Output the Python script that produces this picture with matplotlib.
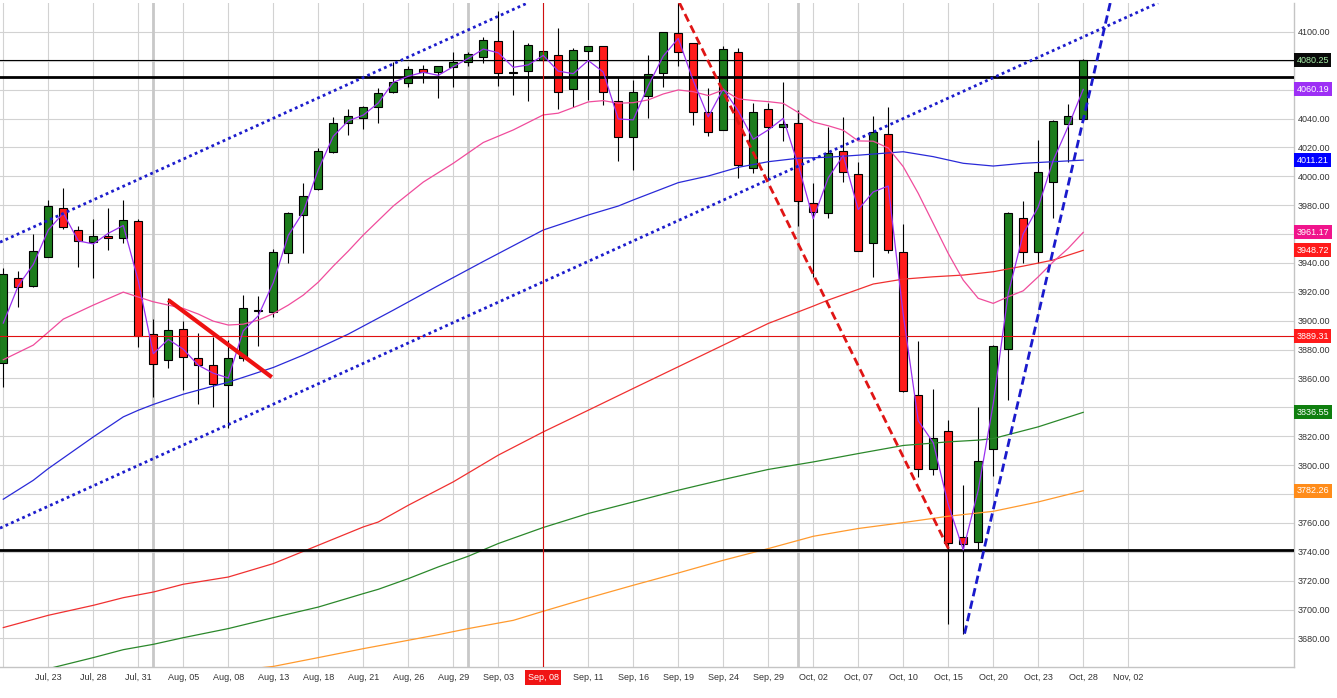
import matplotlib
matplotlib.use('Agg')
import matplotlib.pyplot as plt
import matplotlib.transforms as mtransforms
from matplotlib.patches import Rectangle
import numpy as np

# ---------------- data ----------------
opens = [3870.6, 3929.3, 3924.2, 3944.3, 3977.8, 3962.8, 3954.3, 3958.4, 3957.0, 3969.0,
         3890.5, 3872.5, 3894.4, 3874.3, 3869.0, 3855.4, 3873.9, 3906.5, 3905.8, 3946.6,
         3973.0, 3991.0, 4017.0, 4036.7, 4040.2, 4047.8, 4058.2, 4064.4, 4074.2, 4072.1,
         4076.0, 4079.0, 4082.9, 4093.6, 4072.3, 4073.0, 4080.6, 4084.1, 4060.3, 4087.0,
         4090.3, 4052.2, 4027.0, 4055.9, 4071.4, 4099.1, 4092.2, 4044.8, 4032.1, 4085.9,
         4005.5, 4046.4, 4034.0, 4036.7, 3981.3, 3974.4, 4017.7, 4001.4, 3953.6, 4029.3,
         3947.7, 3848.4, 3797.6, 3823.5, 3750.2, 3746.8, 3811.5, 3880.1, 3970.9, 3947.3,
         3995.8, 4036.0, 4040.01]
highs = [3936.5, 3934.6, 3960.0, 3983.6, 3991.7, 3965.6, 3970.4, 3977.8, 3983.6, 3970.4,
         3901.1, 3915.5, 3900.0, 3891.2, 3888.8, 3886.6, 3917.7, 3917.3, 3949.6, 3975.5,
         3995.1, 4019.4, 4041.3, 4046.6, 4048.7, 4061.0, 4079.4, 4076.4, 4077.1, 4076.6,
         4086.3, 4086.1, 4096.7, 4114.6, 4101.4, 4092.2, 4087.5, 4102.6, 4088.7, 4090.5,
         4090.5, 4068.6, 4066.7, 4084.1, 4100.0, 4120.3, 4092.5, 4061.0, 4090.3, 4088.7,
         4050.6, 4050.6, 4065.6, 4045.9, 3995.1, 4034.4, 4040.9, 4010.1, 4041.8, 4047.8,
         3966.9, 3885.9, 3852.6, 3831.1, 3786.1, 3839.9, 3883.1, 3975.5, 3982.9, 4025.2,
         4039.0, 4050.1, 4081.5]
lows = [3854.0, 3909.6, 3923.5, 3944.0, 3963.3, 3937.4, 3929.3, 3948.9, 3953.6, 3881.5,
        3847.3, 3867.0, 3851.9, 3842.2, 3840.3, 3825.4, 3872.0, 3882.6, 3902.7, 3939.7,
        3947.1, 3990.5, 4015.9, 4028.6, 4032.8, 4036.7, 4057.5, 4062.1, 4064.4, 4054.5,
        4062.1, 4076.6, 4078.3, 4062.6, 4056.3, 4052.4, 4079.9, 4046.4, 4047.8, 4052.9,
        4049.4, 4010.6, 4004.4, 4040.2, 4061.7, 4076.6, 4035.6, 4028.1, 4031.8, 3998.6,
        4002.1, 3997.4, 4024.7, 3965.6, 3930.4, 3970.9, 3996.3, 3948.0, 3930.4, 3947.1,
        3850.7, 3791.8, 3793.0, 3690.2, 3683.3, 3741.0, 3792.5, 3845.0, 3939.7, 3939.7,
        3970.9, 4010.1, 4039.0]
closes = [3932.3, 3923.5, 3948.2, 3979.4, 3965.1, 3955.4, 3958.6, 3957.0, 3969.5, 3889.5,
          3869.7, 3893.3, 3874.6, 3869.0, 3856.5, 3873.9, 3908.5, 3907.2, 3947.3, 3974.4,
          3986.3, 4017.5, 4036.7, 4041.8, 4047.8, 4057.5, 4065.1, 4074.2, 4072.5, 4076.4,
          4079.2, 4084.8, 4094.5, 4071.4, 4071.8, 4091.0, 4086.8, 4058.2, 4087.5, 4090.3,
          4058.6, 4027.4, 4058.2, 4070.7, 4099.8, 4085.9, 4044.8, 4030.5, 4088.0, 4007.8,
          4044.4, 4034.0, 4036.2, 3983.1, 3975.5, 4015.9, 4002.8, 3948.4, 4030.9, 3948.9,
          3851.4, 3797.0, 3819.1, 3746.4, 3745.7, 3802.7, 3882.4, 3974.4, 3947.3, 4002.8,
          4038.3, 4041.8, 4080.25]

tick_idx = list(range(3, 76, 3))
tick_labels = ["Jul, 23", "Jul, 28", "Jul, 31", "Aug, 05", "Aug, 08", "Aug, 13", "Aug, 18",
               "Aug, 21", "Aug, 26", "Aug, 29", "Sep, 03", "Sep, 08", "Sep, 11", "Sep, 16",
               "Sep, 19", "Sep, 24", "Sep, 29", "Oct, 02", "Oct, 07", "Oct, 10", "Oct, 15",
               "Oct, 20", "Oct, 23", "Oct, 28", "Nov, 02"]
highlight_label = "Sep, 08"
month_start_idx = [10, 31, 53]

pink_idx = [0, 2, 4, 6, 8, 9, 10, 11, 12, 13, 14, 15, 16, 17, 18, 19, 20, 21, 22, 23, 24, 26, 28,
            30, 32, 34, 36, 37, 39, 40, 41, 42, 43, 44, 45, 46, 47, 48, 49, 50, 51, 52, 53, 54,
            55, 56, 57, 58, 59, 60, 61, 62, 63, 64, 65, 66, 67, 68, 69, 70, 71, 72]
pink_val = [3873.0, 3883.1, 3901.1, 3910.8, 3919.8, 3916.4, 3913.1, 3910.8, 3908.5, 3904.6,
            3899.7, 3897.0, 3897.6, 3900.4, 3904.9, 3910.8, 3917.7, 3926.7, 3937.8, 3948.2,
            3959.3, 3979.4, 3996.0, 4009.0, 4023.4, 4032.1, 4042.5, 4043.7, 4051.5, 4052.4,
            4050.6, 4051.0, 4052.9, 4057.0, 4059.8, 4058.6, 4055.9, 4059.8, 4053.6, 4052.5,
            4051.7, 4050.5, 4044.2, 4037.6, 4035.0, 4031.9, 4024.5, 4024.3, 4019.6, 4006.7,
            3988.2, 3967.4, 3946.6, 3928.1, 3915.5, 3912.0, 3916.6, 3920.7, 3930.4, 3940.8,
            3950.1, 3961.17]

blue_idx = [0, 2, 3, 6, 8, 9, 10, 12, 14, 15, 18, 20, 23, 26, 29, 32, 36, 39, 41, 42, 45, 47,
            49, 51, 53, 55, 57, 60, 62, 64, 66, 68, 70, 72]
blue_val = [3776.4, 3789.5, 3797.6, 3819.5, 3833.4, 3838.0, 3842.0, 3849.1, 3854.7, 3857.4,
            3867.6, 3876.2, 3890.7, 3907.3, 3924.3, 3941.0, 3962.8, 3973.2, 3979.4, 3983.6,
            3995.6, 4000.2, 4006.2, 4010.1, 4012.5, 4013.2, 4014.6, 4017.0, 4013.6, 4009.0,
            4007.1, 4009.0, 4010.1, 4011.21]

red_idx = [0, 3, 6, 8, 10, 12, 15, 18, 21, 24, 25, 27, 30, 33, 36, 39, 42, 45, 48, 51, 54, 55,
           58, 60, 62, 64, 66, 68, 70, 72]
red_val = [3687.5, 3696.0, 3702.9, 3708.2, 3712.1, 3717.5, 3722.5, 3731.8, 3744.5, 3757.2,
           3760.6, 3772.2, 3788.4, 3806.9, 3823.0, 3838.0, 3853.1, 3868.1, 3883.1, 3898.1,
           3910.1, 3914.3, 3925.4, 3928.8, 3930.4, 3931.6, 3933.9, 3937.8, 3942.0, 3948.72]

green_idx = [3, 6, 8, 10, 12, 15, 18, 21, 24, 25, 27, 29, 31, 33, 36, 39, 42, 45, 48, 51, 54,
             57, 60, 63, 65, 66, 69, 72]
green_val = [3659.0, 3666.7, 3672.2, 3675.9, 3680.5, 3686.8, 3694.4, 3701.7, 3711.0, 3714.0,
             3721.4, 3729.5, 3736.9, 3745.7, 3756.8, 3766.5, 3774.5, 3782.6, 3790.0, 3797.0,
             3802.2, 3808.0, 3813.6, 3816.1, 3817.3, 3818.4, 3826.5, 3836.55]

orange_idx = [17, 18, 21, 24, 27, 29, 31, 34, 36, 39, 42, 45, 48, 51, 54, 57, 60, 63, 66, 69, 72]
orange_val = [3659.5, 3660.6, 3666.7, 3672.9, 3678.7, 3682.6, 3686.8, 3692.5, 3698.8, 3708.0,
              3716.8, 3725.3, 3734.1, 3742.2, 3750.7, 3756.1, 3760.2, 3764.6, 3768.0, 3774.5,
              3782.26]

# trend lines (index, price)
channel_upper = [(0, 3955.4), (10, 4002.5)]
channel_lower = [(0, 3757.4), (10, 3804.5)]
red_trend = [(11.0, 3914.3), (17.9, 3860.9)]
red_dashed = [(45.07, 4120.3), (63.07, 3741.0)]
blue_dashed = [(64.09, 3683.3), (73.8, 4120.0)]

last_price = 4080.25
resist_level = 4068.6
support_level = 3741.0
red_level = 3889.31
vline_idx = 36

# ---------------- figure ----------------
FONT = 'Liberation Sans'
fig = plt.figure(figsize=(13.37, 6.98), dpi=100)
ax = fig.add_axes([0.0, 0.044, 0.9678, 0.9517])
ax.set_facecolor('white')
ax.set_xlim(-0.22, 86.05)
ax.set_ylim(3660, 4120)

# grid
for y in range(3680, 4101, 20):
    ax.axhline(y, color='#d2d2d2', lw=0.8, zorder=0)
for k in range(0, 76, 3):
    ax.axvline(k, color='#d2d2d2', lw=0.8, zorder=0)
for k in month_start_idx:
    ax.axvline(k, color='#c8c8c8', lw=2.0, zorder=0)

# candles
w = 0.56
for k in range(len(opens)):
    o, h, l, c = opens[k], highs[k], lows[k], closes[k]
    ax.plot([k, k], [l, h], color='black', lw=0.8, zorder=3, solid_capstyle='butt')
    col = '#1c7c1c' if c >= o else '#ff1c1c'
    bottom = min(o, c)
    height = max(abs(c - o), 0.4)
    ax.add_patch(Rectangle((k - w / 2, bottom), w, height, facecolor=col,
                           edgecolor='black', lw=0.8, zorder=3.5))

# moving averages
ohlc4 = (np.array(opens) + np.array(highs) + np.array(lows) + np.array(closes)) / 4.0
idx_all = np.arange(len(opens))
ax.plot(orange_idx, orange_val, color='#ff9a2e', lw=0.9, zorder=4)
ax.plot(green_idx, green_val, color='#2b882b', lw=0.9, zorder=4)
ax.plot(red_idx, red_val, color='#f03030', lw=0.9, zorder=4)
ax.plot(blue_idx, blue_val, color='#2a2ad8', lw=0.9, zorder=4)
ax.plot(pink_idx, pink_val, color='#f04c9c', lw=0.9, zorder=4)
ax.plot(idx_all, ohlc4, color='#9a30f0', lw=0.9, zorder=4.2)

# horizontal levels
ax.axhline(last_price, color='black', lw=0.8, zorder=4)
ax.axhline(resist_level, color='black', lw=2.0, zorder=4)
ax.axhline(support_level, color='black', lw=2.0, zorder=4)
ax.axhline(red_level, color='#e01010', lw=0.8, zorder=4)
ax.axvline(vline_idx, color='#d01010', lw=0.8, zorder=4)

# trend lines
ax.axline(channel_upper[0], channel_upper[1], color='#1c1ccc', lw=2.0,
          linestyle=(0, (1.0, 1.2)), zorder=5)
ax.axline(channel_lower[0], channel_lower[1], color='#1c1ccc', lw=2.0,
          linestyle=(0, (1.0, 1.2)), zorder=5)
ax.plot([p[0] for p in red_trend], [p[1] for p in red_trend], color='#ee1111', lw=3.0,
        zorder=5, solid_capstyle='butt')
ax.plot([p[0] for p in red_dashed], [p[1] for p in red_dashed], color='#e01515', lw=2.0,
        linestyle=(0, (3.0, 1.6)), zorder=5)
ax.plot([p[0] for p in blue_dashed], [p[1] for p in blue_dashed], color='#1a1acc', lw=2.0,
        linestyle=(0, (3.0, 1.6)), zorder=5)

# axes styling
for s in ['left', 'top']:
    ax.spines[s].set_visible(False)
for s in ['right', 'bottom']:
    ax.spines[s].set_color('#c4c4c4')
    ax.spines[s].set_linewidth(1.0)

ax.yaxis.tick_right()
ax.set_yticks(list(range(3680, 4101, 20)))
ax.set_yticklabels(['%.2f' % v for v in range(3680, 4101, 20)])
ax.set_xticks(tick_idx)
ax.set_xticklabels(tick_labels)
ax.tick_params(axis='both', length=0, labelsize=6.5, labelcolor='#333333')
ax.tick_params(axis='x', pad=4)
ax.tick_params(axis='y', pad=3)
for lbl in ax.get_xticklabels() + ax.get_yticklabels():
    lbl.set_fontfamily(FONT)
for lbl in ax.get_xticklabels():
    if lbl.get_text() == highlight_label:
        lbl.set_color('white')
        lbl.set_bbox(dict(boxstyle='square,pad=0.3', fc='#f01414', ec='none'))

# price tags on the right axis
trans = mtransforms.blended_transform_factory(ax.transAxes, ax.transData)
tags = [
    (last_price, '#0a0a0a', '#a8f0a8'),
    (ohlc4[-1], '#9d2ff5', 'white'),
    (blue_val[-1], '#0000ff', 'white'),
    (pink_val[-1], '#f0148c', 'white'),
    (red_val[-1], '#ff1a1a', 'white'),
    (red_level, '#ff1a1a', 'white'),
    (green_val[-1], '#0f7f0f', 'white'),
    (orange_val[-1], '#ff8c1a', 'white'),
]
for val, bg, fg in tags:
    ax.text(1.0 + 2.5 / 1294, val, '%.2f' % val, transform=trans, ha='left', va='center',
            fontsize=6.5, family=FONT, color=fg, zorder=20, clip_on=False,
            bbox=dict(boxstyle='square,pad=0.28', fc=bg, ec='none'))

fig.savefig('out.png', dpi=100, facecolor='white')
